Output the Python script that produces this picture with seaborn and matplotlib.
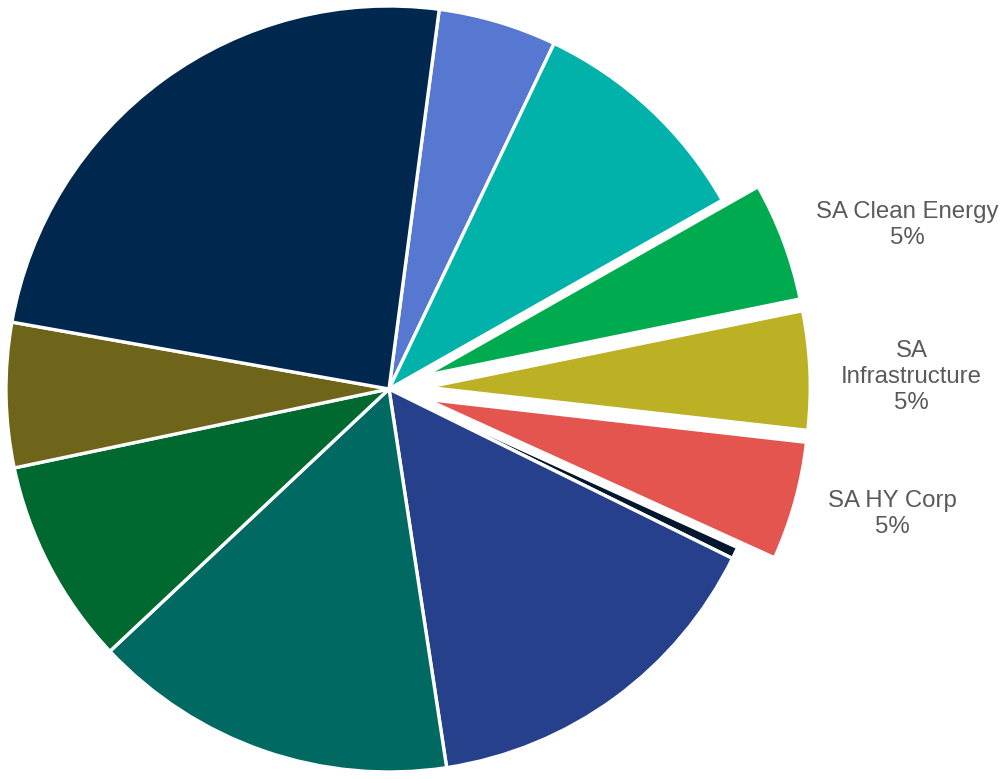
import numpy as np
import matplotlib
matplotlib.use("Agg")
import matplotlib.pyplot as plt
import seaborn as sns

# Allocation shares (%), clockwise from just right of 12 o'clock
labels = ["", "", "SA Clean Energy", "SA\nInfrastructure", "SA HY Corp",
          "", "", "", "", "", ""]
values = [5.0, 9.7, 5.0, 5.0, 5.0, 0.5, 15.3, 15.4, 8.7, 6.1, 24.3]
pct_text = ["", "", "5%", "5%", "5%", "", "", "", "", "", ""]
colors = ["#5778D0", "#00B2AA", "#00AB4F", "#BCB024", "#E3554E", "#00172F",
          "#27408B", "#006A62", "#006930", "#6E651A", "#00284F"]
explode = [0, 0, 0.1, 0.1, 0.1, 0, 0, 0, 0, 0, 0]

# Label placement: angular nudge (deg, clockwise) and distance from centre (radius units)
label_nudge = [0, 0, 3.0, 1.2, -1.5, 0, 0, 0, 0, 0, 0]
label_dist = [0, 0, 1.42, 1.365, 1.355, 0, 0, 0, 0, 0, 0]

sns.set_theme(style="white")
plt.rcParams["font.family"] = ["Liberation Sans", "DejaVu Sans"]

fig = plt.figure(figsize=(10.02, 7.79), dpi=100)
ax = fig.add_axes([0, 0, 1, 1])

palette = sns.color_palette(colors)
wedges, texts = ax.pie(
    values,
    colors=palette,
    explode=explode,
    startangle=82.46,
    counterclock=False,
    radius=1.0,
    wedgeprops=dict(edgecolor="white", linewidth=2.4),
)

for w, lab, pct, nud, dist in zip(wedges, labels, pct_text, label_nudge, label_dist):
    if not lab:
        continue
    mid = np.deg2rad((w.theta1 + w.theta2) / 2.0 - nud)
    ax.text(dist * np.cos(mid), dist * np.sin(mid), f"{lab}\n{pct}",
            ha="center", va="center", multialignment="center",
            fontsize=17.3, color="#5A5A5A", linespacing=1.24)

px = 383.0
ax.set_xlim(-389 / px, (1002 - 389) / px)
ax.set_ylim(-390 / px, 389 / px)
ax.set_aspect("auto")
ax.axis("off")

fig.savefig("out.png", dpi=100, facecolor="white")
